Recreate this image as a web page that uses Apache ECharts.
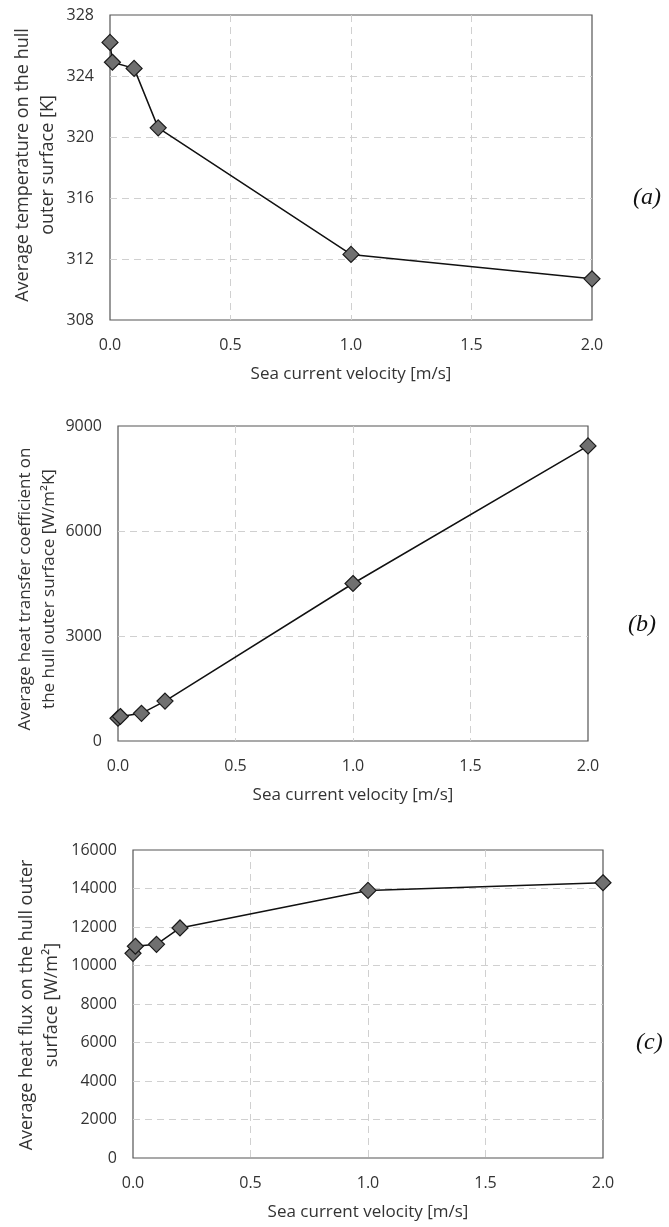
<!DOCTYPE html>
<html>
<head>
<meta charset="utf-8">
<title>hull surface vs sea current velocity</title>
<script src="https://cdn.jsdelivr.net/npm/echarts@6/dist/echarts.min.js"></script>
<style>
  html, body { margin: 0; padding: 0; background: #fff; }
  #main { width: 669px; height: 1227px; }
</style>
</head>
<body>
<div id="main"></div>
<script type="text/javascript">
// data
var velocity = [0, 0.01, 0.1, 0.2, 1.0, 2.0];
var temperature = [326.2, 324.9, 324.5, 320.6, 312.3, 310.7];
var heatTransferCoeff = [650, 700, 790, 1140, 4500, 8430];
var heatFlux = [10630, 11000, 11100, 11950, 13900, 14300];

var xTitle = 'Sea current velocity [m/s]';
var yTitles = [
    'Average temperature on the hull\nouter surface [K]',
    'Average heat transfer coefficient on\nthe hull outer surface [W/m\u00b2K]',
    'Average heat flux on the hull outer\nsurface [W/m\u00b2]'
];
var panelLabels = ['(a)', '(b)', '(c)'];

var font = 'Open Sans';
var gridLine = { show: true, showMinLine: false, showMaxLine: false,
    lineStyle: { color: '#d0d0d0', type: [7, 5], width: 1 } };

function pairs(xs, ys) {
    return xs.map(function (x, i) { return [x, ys[i]]; });
}

function xAxisFor(idx) {
    return {
        type: 'value', gridIndex: idx, min: 0, max: 2, interval: 0.5,
        name: xTitle, nameLocation: 'middle', nameGap: 46,
        nameTextStyle: { fontFamily: font, fontSize: 17, color: '#333' },
        axisLine: { show: false }, axisTick: { show: false },
        axisLabel: { margin: 17, fontFamily: font, fontSize: 16, color: '#333',
            formatter: function (v) { return v.toFixed(1); } },
        splitLine: gridLine
    };
}

function yAxisFor(idx, min, max, interval) {
    return {
        type: 'value', gridIndex: idx, min: min, max: max, interval: interval,
        axisLine: { show: false }, axisTick: { show: false },
        axisLabel: { margin: 16, fontFamily: font, fontSize: 16, color: '#333',
            formatter: function (v) { return String(v); } },
        splitLine: gridLine
    };
}

function seriesFor(idx, ys) {
    return {
        type: 'line', xAxisIndex: idx, yAxisIndex: idx,
        data: pairs(velocity, ys),
        symbol: 'diamond', symbolSize: 16,
        lineStyle: { color: '#111', width: 1.5 },
        itemStyle: { color: '#707070', borderColor: '#1a1a1a', borderWidth: 1.2 },
        animation: false
    };
}

var gridBox = { show: true, borderColor: '#555', borderWidth: 1.2, backgroundColor: 'transparent' };

function yTitle(text, x, y, size) {
    return { type: 'text', x: x, y: y, rotation: Math.PI / 2,
        style: { text: text, fontFamily: font, fontSize: size, lineHeight: size + 7, fill: '#333',
            align: 'center', verticalAlign: 'middle' } };
}

function panelLabel(text, x, y) {
    return { type: 'text', x: x, y: y,
        style: { text: text, fontFamily: 'Liberation Serif', fontStyle: 'italic', fontSize: 24,
            fill: '#111', align: 'left', verticalAlign: 'middle' } };
}

var option = {
    backgroundColor: '#fff',
    animation: false,
    grid: [
        Object.assign({ left: 110, top: 15, width: 482, height: 305 }, gridBox),
        Object.assign({ left: 118, top: 426, width: 470, height: 315 }, gridBox),
        Object.assign({ left: 133, top: 850, width: 470, height: 308 }, gridBox)
    ],
    xAxis: [xAxisFor(0), xAxisFor(1), xAxisFor(2)],
    yAxis: [
        yAxisFor(0, 308, 328, 4),
        yAxisFor(1, 0, 9000, 3000),
        yAxisFor(2, 0, 16000, 2000)
    ],
    series: [
        seriesFor(0, temperature),
        seriesFor(1, heatTransferCoeff),
        seriesFor(2, heatFlux)
    ],
    graphic: [
        yTitle(yTitles[0], 35, 165, 18),
        yTitle(yTitles[1], 37, 589, 17),
        yTitle(yTitles[2], 39, 1005, 18),
        panelLabel(panelLabels[0], 633, 198),
        panelLabel(panelLabels[1], 628, 625),
        panelLabel(panelLabels[2], 636, 1043)
    ]
};

var myChart = echarts.init(document.getElementById('main'));
myChart.setOption(option);
</script>
</body>
</html>
